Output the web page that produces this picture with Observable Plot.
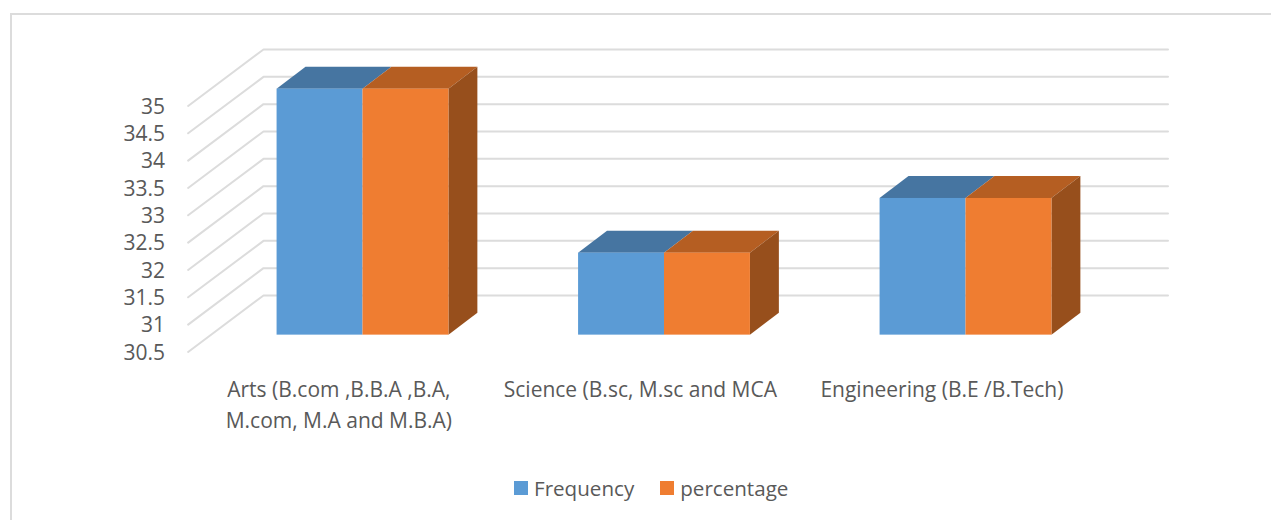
<!DOCTYPE html>
<html><head><meta charset="utf-8">
<script src="https://cdn.jsdelivr.net/npm/d3@7"></script>
<script src="https://cdn.jsdelivr.net/npm/@observablehq/plot@0.6"></script>
<style>
html,body{margin:0;padding:0;background:#fff;overflow:hidden}
#wrap{position:relative;width:1271px;height:520px;font-family:"Open Sans",sans-serif;color:#595959}
#frame{position:absolute;left:10px;top:13px;right:0;bottom:0;border-left:2px solid #dcdcdc;border-top:2px solid #dcdcdc}
#chart{position:absolute;left:0;top:0}
#legend{position:absolute;left:514px;top:469px;height:38px;display:flex;align-items:center;font-size:20.6px}
#legend i{display:inline-block;width:14px;height:14px;margin-right:6px}
#legend span{display:inline-flex;align-items:center}
</style></head><body>
<div id="wrap"><div id="frame"></div><div id="chart"></div>
<div id="legend"></div></div>
<script>
const categories = ["Arts (B.com ,B.B.A ,B.A,\nM.com, M.A and M.B.A)", "Science (B.sc, M.sc and MCA", "Engineering (B.E /B.Tech)"];
const frequency = [35, 32, 33];
const percentage = [35, 32, 33];
const yTicks = [30.5, 31, 31.5, 32, 32.5, 33, 33.5, 34, 34.5, 35];
const seriesNames = ["Frequency", "percentage"];
const frontColors = ["#5B9BD5", "#EF7D31"];
const topColors = ["#4675A1", "#B55E22"];
const sideColor = "#974F1C";

// oblique 3D projection, as offsets in scale units
const planeFront = {x: -0.08, v: -1.033};
const planeBarFront = {x: 0, v: -0.725};
const planeBarBack = {x: 0.096, v: -0.325};
const planeBack = {x: 0.17, v: 0};
const halfGroup = 0.285;
const base = yTicks[0];
const catIdx = categories.map((_, i) => i);

const grid = yTicks.flatMap(t => [
  {t, x: -0.5 + planeFront.x, y: t + planeFront.v},
  {t, x: -0.5 + planeBack.x, y: t},
  {t, x: 2.5 + planeBack.x, y: t}
]);

const bars = catIdx.flatMap(i => [frequency[i], percentage[i]].map((v, s) => ({
  i, s, v, id: `${i}-${s}`,
  x1: i - halfGroup + s * halfGroup,
  x2: i + s * halfGroup,
  y1: base + planeBarFront.v,
  y2: v + planeBarFront.v
})));

const topRows = bars.flatMap(b => [planeBarFront, planeBarBack].map(p => ({
  id: b.id, s: b.s,
  y: b.v + p.v,
  x1: b.x1 + p.x,
  x2: b.x2 + p.x
})));

const sideRows = bars.filter(b => b.s === 1).flatMap(b => [planeBarFront, planeBarBack].map(p => ({
  id: b.id,
  x: b.x2 + p.x,
  y1: base + p.v,
  y2: b.v + p.v
})));

const plot = Plot.plot({
  width: 1271, height: 470,
  margin: 0,
  x: {type: "linear", domain: [-0.5, 2.5], range: [211.75, 1116.25], axis: null},
  y: {type: "linear", domain: [30.5, 35], range: [295, 49], axis: null},
  style: {background: "transparent", overflow: "visible"},
  marks: [
    Plot.line(grid, {x: "x", y: "y", z: "t", stroke: "#dcdcdc", strokeWidth: 2, curve: "linear"}),
    Plot.areaX(topRows, {y: "y", x1: "x1", x2: "x2", z: "id", fill: d => topColors[d.s], curve: "linear"}),
    Plot.areaY(sideRows, {x: "x", y1: "y1", y2: "y2", z: "id", fill: sideColor, curve: "linear"}),
    Plot.rect(bars, {x1: "x1", x2: "x2", y1: "y1", y2: "y2", fill: d => frontColors[d.s], inset: 0}),
    Plot.text(yTicks, {x: -0.5 + planeFront.x, y: t => t + planeFront.v, text: t => String(t),
      textAnchor: "end", dx: -23, dy: 1, fontSize: 21, fill: "#595959", fontFamily: "Open Sans"}),
    Plot.text(categories, {x: (_, i) => i + planeFront.x, y: base + planeFront.v, text: d => d,
      lineAnchor: "top", dy: 23, fontSize: 21, lineHeight: 1.476,
      textAnchor: "middle", fill: "#595959", fontFamily: "Open Sans"})
  ]
});
document.getElementById("chart").append(plot);

const legend = document.getElementById("legend");
seriesNames.forEach((n, i) => {
  const s = document.createElement("span");
  if (i) s.style.marginLeft = "26px";
  const sw = document.createElement("i");
  sw.style.background = frontColors[i];
  s.append(sw, document.createTextNode(n));
  legend.append(s);
});
</script></body></html>
